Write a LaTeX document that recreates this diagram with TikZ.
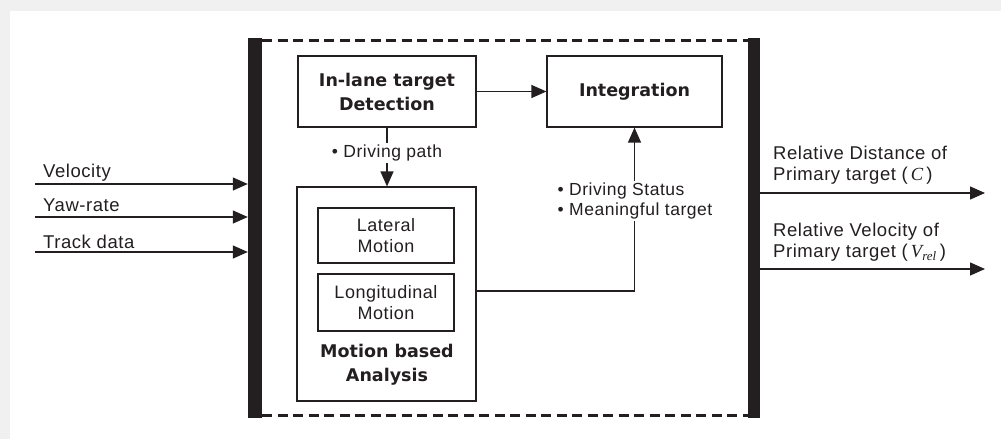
\documentclass[tikz,border=0pt]{standalone}
\usepackage{fontspec}
\setmainfont{Liberation Sans}[LetterSpace=3]
\newfontfamily\heavy{DejaVu Sans}
\newfontfamily\tms{Liberation Serif}
\usetikzlibrary{arrows.meta}
\definecolor{ink}{HTML}{231F20}
\definecolor{page}{HTML}{F0F0F0}

\tikzset{
  every node/.style={font=\fontsize{18.5}{21}\selectfont, text=ink, inner sep=0pt},
  blockbox/.style={draw=ink, line width=1.2pt, fill=white},
  title/.style={font=\heavy\bfseries\fontsize{17.5}{24}\selectfont, align=center},
  sub/.style={font=\fontsize{18}{21}\selectfont, align=center},
  link/.style={draw=ink, line width=1.3pt, -{Triangle[length=15pt,width=13pt]}},
  bar/.style={fill=ink, minimum height=380pt},
  frame/.style={draw=ink, line width=3pt, dash pattern=on 10pt off 5.5pt},
  tag/.style={fill=white, inner sep=2pt, font=\fontsize{17.5}{20}\selectfont}
}

\begin{document}
\begin{tikzpicture}[x=1pt,y=-1pt]
% page background
\fill[page] (0,0) rectangle (1001,439);
\fill[white] (10,11) rectangle (1001,439);
\useasboundingbox (0,0) rectangle (1001,439);

% module frame: dashed top and bottom, solid side bars
\draw[frame] (262,40) -- (748,40);
\draw[frame] (262,415) -- (748,415);
\node[bar, minimum width=14pt] (lbar) at (255,228) {};
\node[bar, minimum width=12pt] (rbar) at (754,228) {};

% blocks
\node[blockbox, title, minimum width=178pt, minimum height=71pt] (det) at (387,91.5) {In-lane target\\Detection};
\node[blockbox, title, minimum width=175pt, minimum height=71pt] (integ) at (634.5,91.5) {Integration};
\node[blockbox, minimum width=179pt, minimum height=214pt] (motion) at (386.5,294) {};
\node[blockbox, sub, minimum width=136pt, minimum height=55pt] (lat) at (386,235.5) {Lateral\\Motion};
\node[blockbox, sub, minimum width=136pt, minimum height=57pt] (lon) at (386,302.5) {Longitudinal\\Motion};
\node[title] (mlabel) at (387,365) {Motion based\\Analysis};

% internal connectors
\draw[link] (det) -- (integ);
\draw[link] (det.south) -- (det.south |- motion.north);
\node[tag] (path) at (387,153) {• Driving path};
\draw[link] ([yshift=3pt]motion.east) -| (integ.south);
\node[tag, align=left] (status) at (635,201) {• Driving Status\\• Meaningful target};

% inputs
\coordinate (in1) at (35,184);
\coordinate (in2) at (35,217);
\coordinate (in3) at (35,252);
\draw[link] (in1) -- (in1 -| lbar.west);
\draw[link] (in2) -- (in2 -| lbar.west);
\draw[link] (in3) -- (in3 -| lbar.west);
\node[anchor=west] (lin1) at (43,173) {Velocity};
\node[anchor=west] (lin2) at (43,205) {Yaw-rate};
\node[anchor=west] (lin3) at (43,242) {Track data};

% outputs
\coordinate (out1) at (985,193);
\coordinate (out2) at (985,269);
\draw[link] (out1 -| rbar.east) -- (out1);
\draw[link] (out2 -| rbar.east) -- (out2);
\node[anchor=west, align=left] (lout1) at (773,165) {Relative Distance of\\Primary target (\,{\tms\itshape C}\,)};
\node[anchor=west, align=left] (lout2) at (773,242.5) {Relative Velocity of\\Primary target (\,{\tms\itshape V\textsubscript{rel}}\,)};
\end{tikzpicture}
\end{document}
